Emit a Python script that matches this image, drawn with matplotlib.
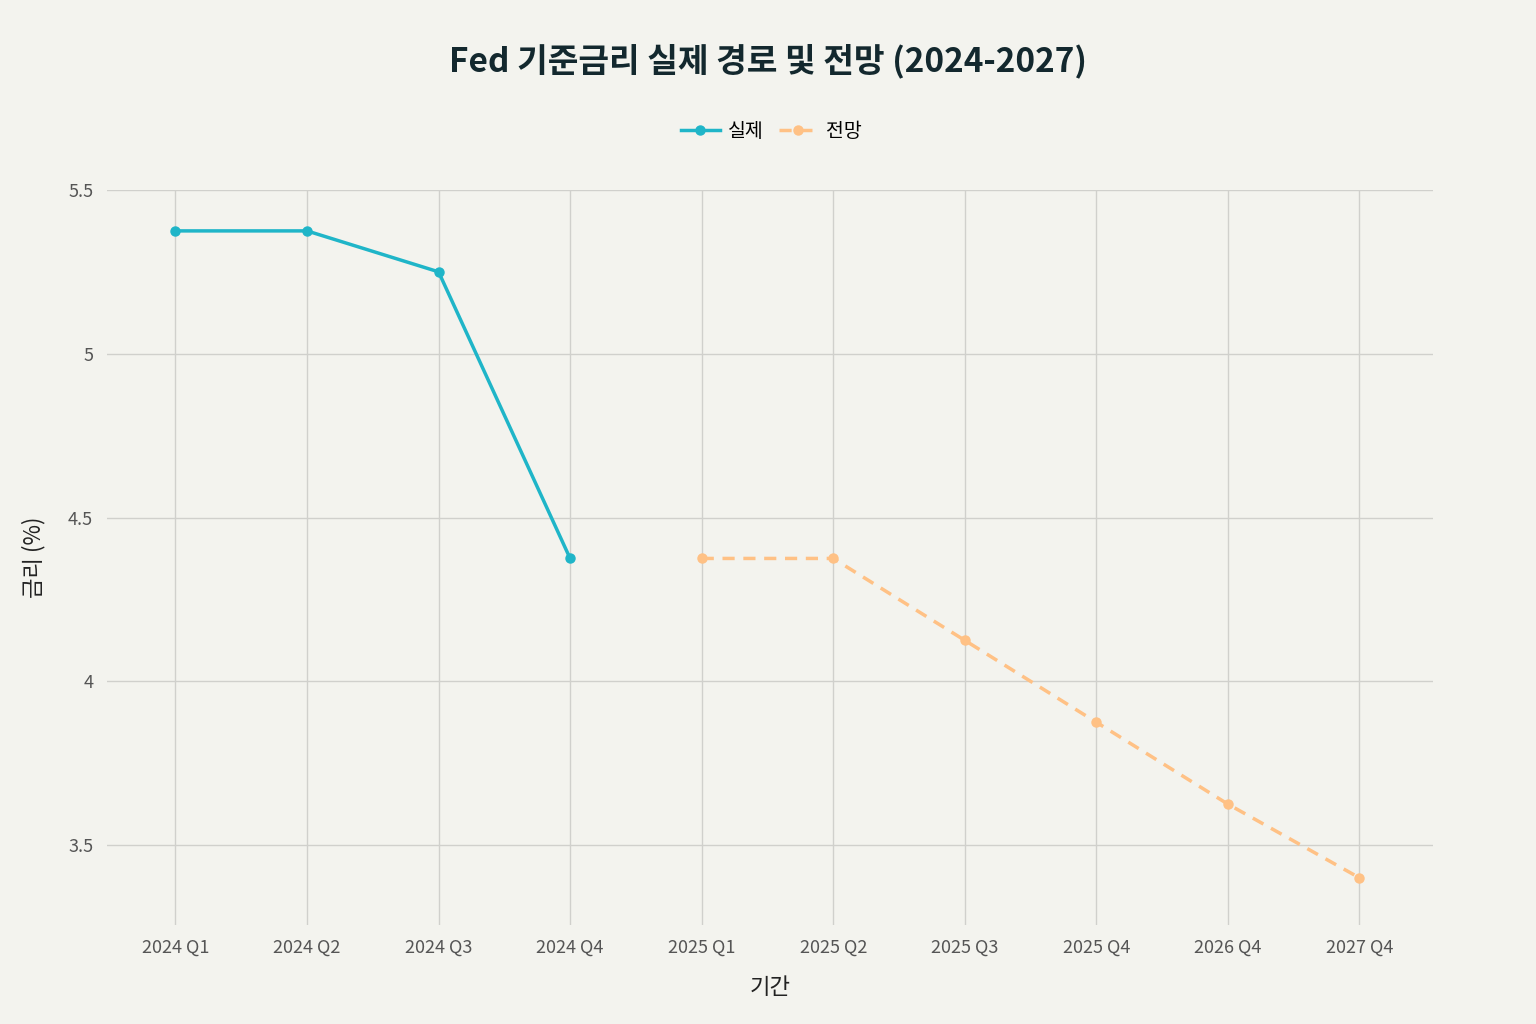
import matplotlib
matplotlib.use('Agg')
from matplotlib import pyplot as plt

matplotlib.rcParams['font.family'] = ['Noto Sans CJK KR', 'Noto Sans CJK JP', 'Noto Sans CJK SC',
                                      'Noto Sans CJK TC', 'DejaVu Sans']

periods = ['2024 Q1', '2024 Q2', '2024 Q3', '2024 Q4', '2025 Q1',
           '2025 Q2', '2025 Q3', '2025 Q4', '2026 Q4', '2027 Q4']
actual_idx = [0, 1, 2, 3]
actual_vals = [5.375, 5.375, 5.25, 4.375]
fcst_idx = [4, 5, 6, 7, 8, 9]
fcst_vals = [4.375, 4.375, 4.125, 3.875, 3.625, 3.4]
yticks = [3.5, 4, 4.5, 5, 5.5]

bg = '#F3F3EE'
fig = plt.figure(figsize=(15.36, 10.24), dpi=100, facecolor=bg)
ax = fig.add_axes([0.0697, 0.0967, 0.8633, 0.7178], facecolor=bg)

ax.plot(actual_idx, actual_vals, color='#1FB5C8', lw=2.5, marker='o', ms=6.5, label='실제')
ax.plot(fcst_idx, fcst_vals, color='#FFC185', lw=2.5, ls=(0, (3.5, 2.5)), marker='o', ms=6.5, label='전망')

ax.set_xlim(-0.52, 9.56)
ax.set_ylim(3.256, 5.5)
ax.set_xticks(range(len(periods)))
ax.set_xticklabels(periods)
ax.set_yticks(yticks)
ax.set_yticklabels(['3.5', '4', '4.5', '5', '5.5'])
ax.tick_params(length=0, labelsize=13, colors='#555555', pad=10)
ax.grid(True, color='#D0D0CC', lw=1)
for s in ax.spines.values():
    s.set_visible(False)

ax.set_xlabel('기간', fontsize=16, color='#222222', labelpad=14)
ax.set_ylabel('금리 (%)', fontsize=16, color='#222222', labelpad=16)

fig.text(0.5, 0.94, 'Fed 기준금리 실제 경로 및 전망 (2024-2027)', ha='center', va='center',
         fontsize=24, fontweight='bold', color='#13282E')
fig.legend(loc='center', bbox_to_anchor=(0.502, 0.872), ncol=2, frameon=False,
           fontsize=14, handlelength=2, columnspacing=0.8, handletextpad=0.4)

fig.savefig('out.png', dpi=100, facecolor=bg)
